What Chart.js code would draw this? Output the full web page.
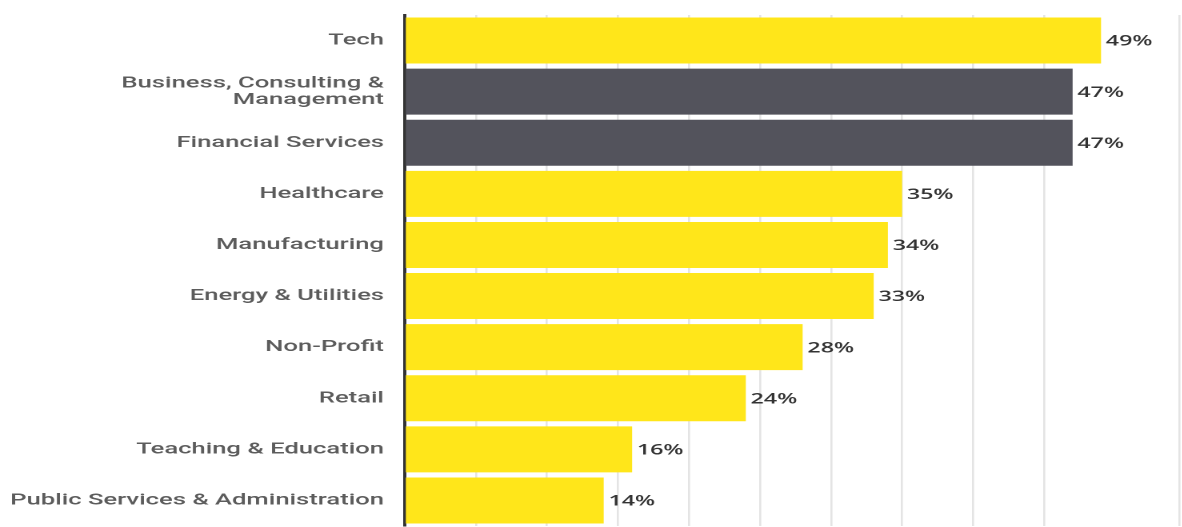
<!DOCTYPE html>
<html>
<head>
<meta charset="utf-8">
<script src="https://cdn.jsdelivr.net/npm/chart.js@4.4.1/dist/chart.umd.min.js"></script>
<style>
  html, body { margin: 0; padding: 0; background: #fff; overflow: hidden; }
  /* the chart is laid out narrow and widened, which gives the broad lettering */
  #wrap { position: relative; width: 739px; height: 527px; transform: scaleX(1.6); transform-origin: 0 0; }
</style>
</head>
<body>
<div id="wrap"><canvas id="sectorChart"></canvas></div>
<script>
const sectors = [
  "Tech",
  ["Business, Consulting &", "Management"],
  "Financial Services",
  "Healthcare",
  "Manufacturing",
  "Energy & Utilities",
  "Non-Profit",
  "Retail",
  "Teaching & Education",
  "Public Services & Administration",
];
const shares = [49, 47, 47, 35, 34, 33, 28, 24, 16, 14];
const highlighted = [false, true, true, false, false, false, false, false, false, false];

const YELLOW = "#ffe61a";
const GREY = "#53535c";

const valueLabels = {
  id: "valueLabels",
  afterDatasetsDraw(chart) {
    const { ctx } = chart;
    const meta = chart.getDatasetMeta(0);
    ctx.save();
    ctx.font = '600 14.5px "Open Sans"';
    ctx.fillStyle = "#333";
    ctx.textAlign = "left";
    ctx.textBaseline = "middle";
    meta.data.forEach((bar, i) => {
      ctx.fillText(`${shares[i]}%`, bar.x + 3, bar.y + 1);
    });
    ctx.restore();
  },
};

new Chart(document.getElementById("sectorChart"), {
  type: "bar",
  data: {
    labels: sectors,
    datasets: [{
      data: shares,
      backgroundColor: highlighted.map(on => (on ? GREY : YELLOW)),
      borderWidth: 0,
      barPercentage: 0.9,
      categoryPercentage: 1,
    }],
  },
  options: {
    indexAxis: "y",
    responsive: true,
    maintainAspectRatio: false,
    devicePixelRatio: 2,
    animation: false,
    layout: { padding: { top: 15, right: 2, bottom: 1, left: 0 } },
    plugins: {
      legend: { display: false },
      tooltip: { enabled: false },
    },
    scales: {
      x: {
        min: 0,
        max: 54.5,
        ticks: { display: false, stepSize: 5 },
        grid: { color: "#e4e4e4", lineWidth: 1.3, drawTicks: false },
        border: { display: false },
      },
      y: {
        grid: { display: false, drawTicks: false },
        border: { display: true, color: "#333", width: 2 },
        ticks: {
          color: "#5c5c5c",
          padding: 13,
          font: { family: "Roboto", size: 16, weight: "500", lineHeight: 1.05 },
        },
        afterFit: scale => {
          scale.width = 253;
          // labels may sit flush with the plot edges
          scale.paddingTop = 0;
          scale.paddingBottom = 0;
        },
      },
    },
  },
  plugins: [valueLabels],
});
</script>
</body>
</html>
